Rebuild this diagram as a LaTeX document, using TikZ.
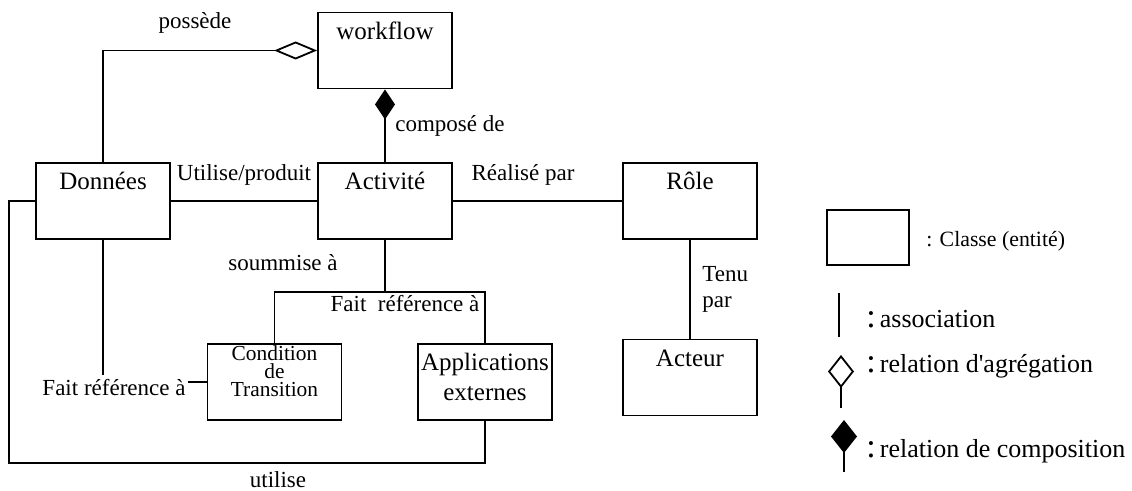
\documentclass[tikz,border=0pt]{standalone}
\usepackage{fontspec}
\setmainfont{Liberation Serif}
\usetikzlibrary{arrows.meta}

\newcommand{\boxfont}{\fontsize{12.5}{15}\selectfont}
\newcommand{\lblfont}{\fontsize{11.5}{13}\selectfont}
\newcommand{\legfont}{\fontsize{13}{15}\selectfont}
\newcommand{\bigcolon}{{\fontsize{17}{17}\selectfont :}\hspace{2pt}}
\newcommand{\empile}[1]{\vtop{\halign{\hfil##\hfil\cr#1\crcr}}}

\tikzset{
    classe/.style={draw, line width=0.9pt, minimum width=67pt, minimum height=38pt,
        inner sep=0pt, text height=13.5pt, text depth=24.5pt, font=\boxfont},
    lien/.style={line width=0.9pt},
    lbl/.style={inner sep=0pt, anchor=base, font=\lblfont},
    legtxt/.style={inner sep=0pt, anchor=base west, font=\legfont},
    agreg/.style={-{Diamond[open,length=21.5pt,width=9pt]}},
    compo/.style={-{Diamond[length=15pt,width=10pt]}}
}

\begin{document}
\begin{tikzpicture}[x=0.5pt,y=-0.5pt]
    \useasboundingbox (0,0) rectangle (1132,491);

    % Classes
    \foreach \nom/\x/\y/\titre in {
        workflow/385/50.5/workflow, donnees/103/201/Données,
        activite/385/201/Activité, role/690/201/Rôle,
        acteur/690/377.5/Acteur
    }
        \node[classe] (\nom) at (\x,\y) {\titre};
    \node[classe, font=\fontsize{10.7}{9}\selectfont, text height=8.5pt, text depth=29.5pt]
        (cond) at (274.5,382) {\empile{Condition\cr de\cr Transition}};
    \node[classe] (applis) at (485,382) {\empile{Applications\cr externes}};

    % Aggregation and composition
    \draw[lien, agreg] (donnees.north) |- (workflow.west);
    \draw[lien, compo] (activite.north) -- (workflow.south);

    % Associations
    \draw[lien] (donnees.east) -- (activite.west);
    \draw[lien] (activite.east) -- (role.west);
    \draw[lien] (role.south) -- (acteur.north);
    \coordinate (fourche) at (385,292);
    \draw[lien] (activite.south) -- (fourche);
    \draw[lien] (cond.north) |- (fourche) -| (applis.north);
    \coordinate (reffin) at (103,375);
    \draw[lien] (donnees.south) -- (reffin);
    \coordinate (refdebut) at (188,382);
    \draw[lien] (refdebut) -- (cond.west);
    \coordinate (boucle) at (9,463);
    \draw[lien] (donnees.west) -| (boucle) -| (applis.south); % utilise

    % Association labels
    \foreach \nom/\x/\y/\txt in {
        possede/195/29/possède, utilprod/244/181/{Utilise/produit},
        realise/523/181/Réalisé par, compose/450/132/composé de,
        soumis/283/271/soummise à, refapp/405/312/{Fait~ référence à},
        refcond/114/396/Fait référence à, utilise/278/488/utilise
    }
        \node[lbl] (\nom) at (\x,\y) {\txt};
    \node[lbl, align=left, anchor=north west] (tenu) at (702,266) {Tenu\\par};

    % Legend
    \node[draw, line width=0.9pt, minimum width=41pt, minimum height=27.5pt, inner sep=0pt]
        (legclasse) at (868,237.5) {};
    \node[legtxt, font=\fontsize{10.9}{13}\selectfont] (txtclasse) at (926,247) {: Classe (entité)};
    \coordinate (assoc1) at (839,293);
    \coordinate (assoc2) at (839,337);
    \draw[lien] (assoc1) -- (assoc2);
    \node[legtxt] (txtassoc) at (866,328) {\bigcolon association};
    \coordinate (agbas) at (841,408);
    \coordinate (aghaut) at (841,355);
    \draw[lien, -{Diamond[open,length=16.5pt,width=13pt]}] (agbas) -- (aghaut);
    \node[legtxt] (txtagreg) at (866,373) {\bigcolon relation d\textquotesingle agrégation};
    \coordinate (cobas) at (844,472);
    \coordinate (cohaut) at (844,420);
    \draw[lien, -{Diamond[length=16.5pt,width=13pt]}] (cobas) -- (cohaut);
    \node[legtxt] (txtcompo) at (866,458) {\bigcolon relation de composition};

\end{tikzpicture}
\end{document}
